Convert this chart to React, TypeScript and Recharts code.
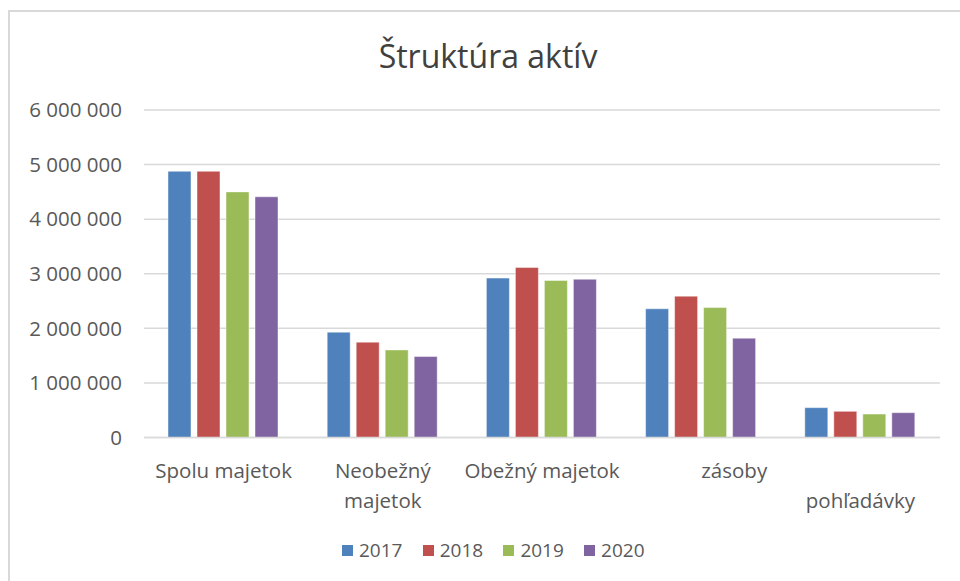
import { BarChart, Bar, XAxis, YAxis, CartesianGrid, Legend } from "recharts";

const categories = ["Spolu majetok", "Neobežný majetok", "Obežný majetok", "zásoby", "pohľadávky"];
const categoryLines = [["Spolu majetok"], ["Neobežný", "majetok"], ["Obežný majetok"], ["zásoby"], ["", "pohľadávky"]];
const years = ["2017", "2018", "2019", "2020"];
const values2017 = [4877000, 1930000, 2920000, 2358000, 547000];
const values2018 = [4877000, 1747000, 3115000, 2590000, 480000];
const values2019 = [4500000, 1605000, 2877000, 2380000, 430000];
const values2020 = [4410000, 1483000, 2900000, 1820000, 455000];
const yTicks = [0, 1000000, 2000000, 3000000, 4000000, 5000000, 6000000];

const seriesColors = ["#4F81BD", "#C0504D", "#9BBB59", "#8064A2"];
const textColor = "#595959";
const gridColor = "#D9D9D9";
const font = "'Open Sans', sans-serif";

const data = categories.map((name, i) => ({
  name,
  "2017": values2017[i],
  "2018": values2018[i],
  "2019": values2019[i],
  "2020": values2020[i],
}));

const formatNumber = (v: number) => String(v).replace(/\B(?=(\d{3})+(?!\d))/g, " ");

// zásoby label sits a bit right of its band in the original
const labelShift: Record<number, number> = { 3: 33 };

function CategoryTick(props: any) {
  const { x, y, payload } = props;
  const lines = categoryLines[payload.index] || [payload.value];
  const shift = labelShift[payload.index] || 0;
  return (
    <g transform={`translate(${x + shift},${y})`}>
      {lines.map((line, i) => (
        <text
          key={i}
          x={0}
          y={40 + i * 30}
          textAnchor="middle"
          fill={textColor}
          fontSize={20.5}
          fontFamily={font}
        >
          {line}
        </text>
      ))}
    </g>
  );
}

function LegendContent() {
  return (
    <div
      style={{
        height: 30,
        display: "flex",
        alignItems: "center",
        paddingLeft: 342,
        fontFamily: font,
        fontSize: 19,
        color: textColor,
      }}
    >
      {years.map((y, i) => (
        <div key={y} style={{ display: "flex", alignItems: "center", width: 80.7 }}>
          <span style={{ width: 11, height: 11, background: seriesColors[i], marginRight: 6, display: "inline-block" }} />
          <span>{y}</span>
        </div>
      ))}
    </div>
  );
}

export default function App() {
  return (
    <div style={{ position: "absolute", left: 0, top: 0, width: 960, height: 581, background: "#fff", overflow: "hidden" }}>
      <div
        style={{
          position: "absolute",
          left: 8,
          top: 10,
          width: 1000,
          height: 700,
          borderLeft: `2px solid ${gridColor}`,
          borderTop: `2px solid ${gridColor}`,
        }}
      />
      <div
        style={{
          position: "absolute",
          left: 0,
          width: 976,
          top: 36,
          textAlign: "center",
          fontFamily: font,
          fontSize: 32,
          color: "#404040",
          lineHeight: "40px",
        }}
      >
        Štruktúra aktív
      </div>
      <div style={{ position: "absolute", left: 0, top: 0 }}>
        <BarChart
          width={960}
          height={581}
          data={data}
          margin={{ top: 110, right: 20, bottom: 16, left: 0 }}
          barCategoryGap={24}
          barGap={6}
        >
          <CartesianGrid vertical={false} stroke={gridColor} strokeWidth={1.5} />
          <XAxis
            dataKey="name"
            height={97.5}
            tickLine={false}
            axisLine={{ stroke: gridColor, strokeWidth: 1.5 }}
            tickSize={0}
            tickMargin={0}
            interval={0}
            tick={<CategoryTick />}
          />
          <YAxis
            width={144}
            domain={[0, 6000000]}
            ticks={yTicks}
            tickFormatter={formatNumber}
            axisLine={false}
            tickLine={false}
            tickSize={0}
            tickMargin={22}
            tick={{ fill: textColor, fontSize: 20.5, fontFamily: font }}
          />
          <Legend verticalAlign="bottom" content={<LegendContent />} />
          {years.map((y, i) => (
            <Bar
              key={y}
              dataKey={y}
              fill={seriesColors[i]}
              stroke="#ffffff"
              strokeOpacity={0.45}
              strokeWidth={1}
              isAnimationActive={false}
            />
          ))}
        </BarChart>
      </div>
    </div>
  );
}
